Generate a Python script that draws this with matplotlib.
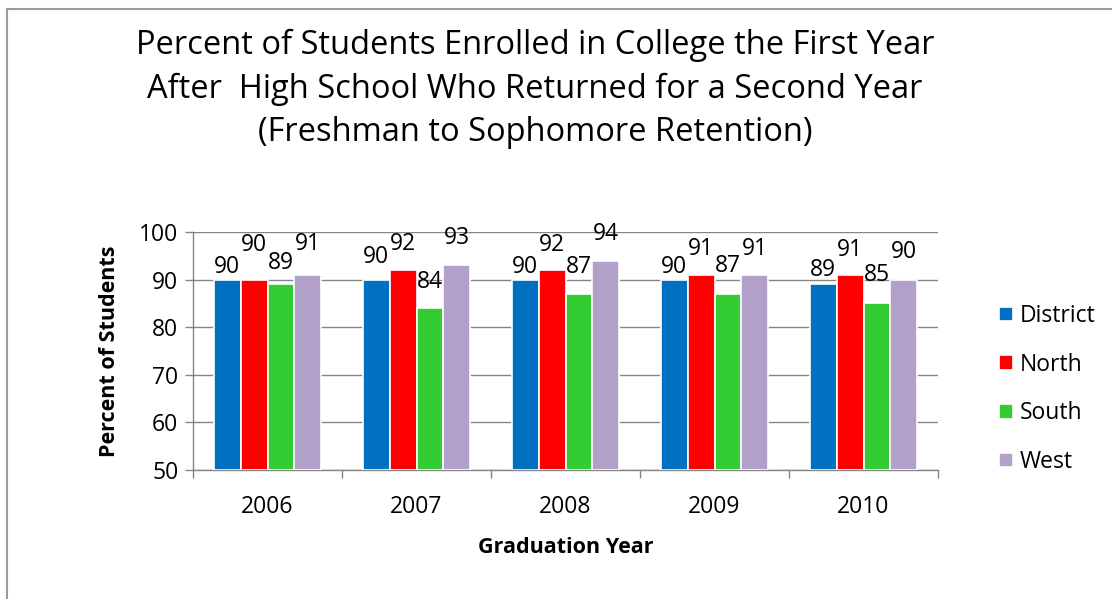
import matplotlib
matplotlib.use("Agg")
import matplotlib.pyplot as plt
import numpy as np
from matplotlib.patches import Rectangle

plt.rcParams["font.family"] = ["Open Sans", "DejaVu Sans"]

years = ["2006", "2007", "2008", "2009", "2010"]
district = [90, 90, 90, 90, 89]
north = [90, 92, 92, 91, 91]
south = [89, 84, 87, 87, 85]
west = [91, 93, 94, 91, 90]

# where the data labels sit (the source chart nudges them to avoid overlap)
district_lbl = [92.6, 94.7, 92.6, 92.6, 92.0]
north_lbl = [97.3, 97.5, 97.3, 96.4, 96.2]
south_lbl = [93.5, 89.5, 92.6, 92.9, 91.0]
west_lbl = [97.5, 98.7, 99.6, 96.4, 95.8]

series = [
    ("District", district, district_lbl, "#0070C0"),
    ("North", north, north_lbl, "#FF0000"),
    ("South", south, south_lbl, "#33CC33"),
    ("West", west, west_lbl, "#B1A0C7"),
]

W, H = 1112, 599
fig = plt.figure(figsize=(W / 100, H / 100), dpi=100)
ax = fig.add_axes([193 / W, 1 - 470 / H, (938 - 193) / W, (470 - 232) / H])

x = np.arange(len(years))
bw = 0.181
for i, (name, vals, lbl, col) in enumerate(series):
    xs = x + (i - 1.5) * bw
    ax.bar(xs, np.array(vals) - 50, bottom=50, width=bw, color=col,
           edgecolor="white", linewidth=1.2, label=name, zorder=3)
    for xi, v, ly in zip(xs, vals, lbl):
        ax.text(xi, ly, str(v), ha="center", va="center", fontsize=16.5,
                color="black", zorder=4)

ax.set_xlim(-0.5, len(years) - 0.5)
ax.set_ylim(50, 100)
ax.set_yticks(range(50, 101, 10))
ax.grid(axis="y", color="#868686", linewidth=1, zorder=0)
ax.set_axisbelow(True)

ax.set_xticks(x)
ax.set_xticklabels(years)
ax.set_xticks(np.arange(-0.5, len(years)), minor=True)
ax.tick_params(axis="x", which="major", length=0, pad=18, labelsize=16.5)
ax.tick_params(axis="x", which="minor", length=5.5, width=1, color="#868686",
               direction="out")
ax.tick_params(axis="y", length=5.5, width=1, color="#868686", pad=5,
               labelsize=16.5)

for s in ["top", "right"]:
    ax.spines[s].set_visible(False)
for s in ["left", "bottom"]:
    ax.spines[s].set_color("#868686")
    ax.spines[s].set_linewidth(1)

ax.set_xlabel("Graduation Year", fontsize=15.5, fontweight="bold", labelpad=13)
ax.set_ylabel("Percent of Students", fontsize=15.5, fontweight="bold", labelpad=14)

fig.text(535 / W, 1 - 89 / H,
         "Percent of Students Enrolled in College the First Year\n"
         "After  High School Who Returned for a Second Year\n"
         "(Freshman to Sophomore Retention)",
         ha="center", va="center", fontsize=23.5, linespacing=1.4)

ax.legend(loc="center left", bbox_to_anchor=(1.07, 0.34), frameon=False,
          fontsize=16.5, handlelength=0.6, handleheight=0.6,
          handletextpad=0.3, labelspacing=1.08, borderaxespad=0)

fig.patches.append(Rectangle((7 / W, -0.1), 1.2, 1 - 9 / H + 0.1,
                             transform=fig.transFigure, fill=False,
                             edgecolor="#9A9A9A", linewidth=1.5))

fig.savefig("out.png", dpi=100)
